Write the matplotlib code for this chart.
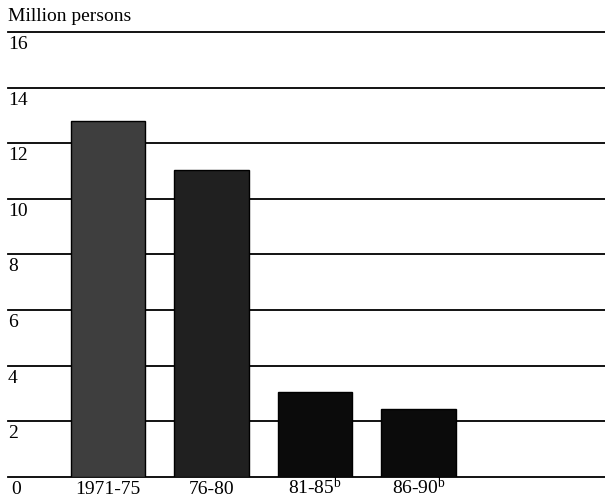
import matplotlib
matplotlib.use("Agg")
import matplotlib.pyplot as plt
import matplotlib.transforms as mtransforms

# data
periods = ["1971-75", "76-80", "81-85", "86-90"]
notes = ["", "", "b", "b"]
persons = [12.8, 11.05, 3.05, 2.42]   # million persons
yticks = [0, 2, 4, 6, 8, 10, 12, 14, 16]

plt.rcParams['font.family'] = ['Liberation Serif', 'DejaVu Serif']
plt.rcParams['mathtext.fontset'] = 'custom'
plt.rcParams['mathtext.rm'] = 'Liberation Serif'
plt.rcParams['mathtext.it'] = 'Liberation Serif'

fig = plt.figure(figsize=(6.05, 4.97), dpi=100)
ax = fig.add_axes([0.0132, 0.0408, 0.9868, 0.895])

# horizontal rules (not clipped, so the 0 and 16 rules keep full width)
for v in yticks:
    ax.axhline(v, color='black', lw=1.3, zorder=1, clip_on=False)

x = range(len(periods))
colors = ['#3e3e3e', '#202020', '#0b0b0b', '#0b0b0b']
ax.bar(x, persons, width=0.72, color=colors, edgecolor='black', lw=1.0, zorder=2)

ax.set_xlim(-0.966, 4.80)
ax.set_ylim(0, 16)
ax.axis('off')

# y labels sit just under each rule
trans_y = mtransforms.blended_transform_factory(ax.transAxes, ax.transData)
for v in yticks:
    if v == 0:
        ax.annotate(str(v), xy=(0, v), xycoords=trans_y, xytext=(2, -12.5),
                    textcoords='offset points', ha='left', va='baseline', fontsize=14)
    else:
        ax.annotate(str(v), xy=(0, v), xycoords=trans_y, xytext=(0, -3),
                    textcoords='offset points', ha='left', va='top', fontsize=14)

# period labels under the bars, all on one baseline
for i, (p, n) in enumerate(zip(periods, notes)):
    lab = p if not n else p + r"$^{\mathrm{%s}}$" % n
    ax.annotate(lab, xy=(i, 0), xycoords='data', xytext=(0, -12.5),
                textcoords='offset points', ha='center', va='baseline', fontsize=14)

fig.text(0.0132, 0.966, "Million persons", ha='left', va='center', fontsize=14)

fig.savefig("out.png", dpi=100)
